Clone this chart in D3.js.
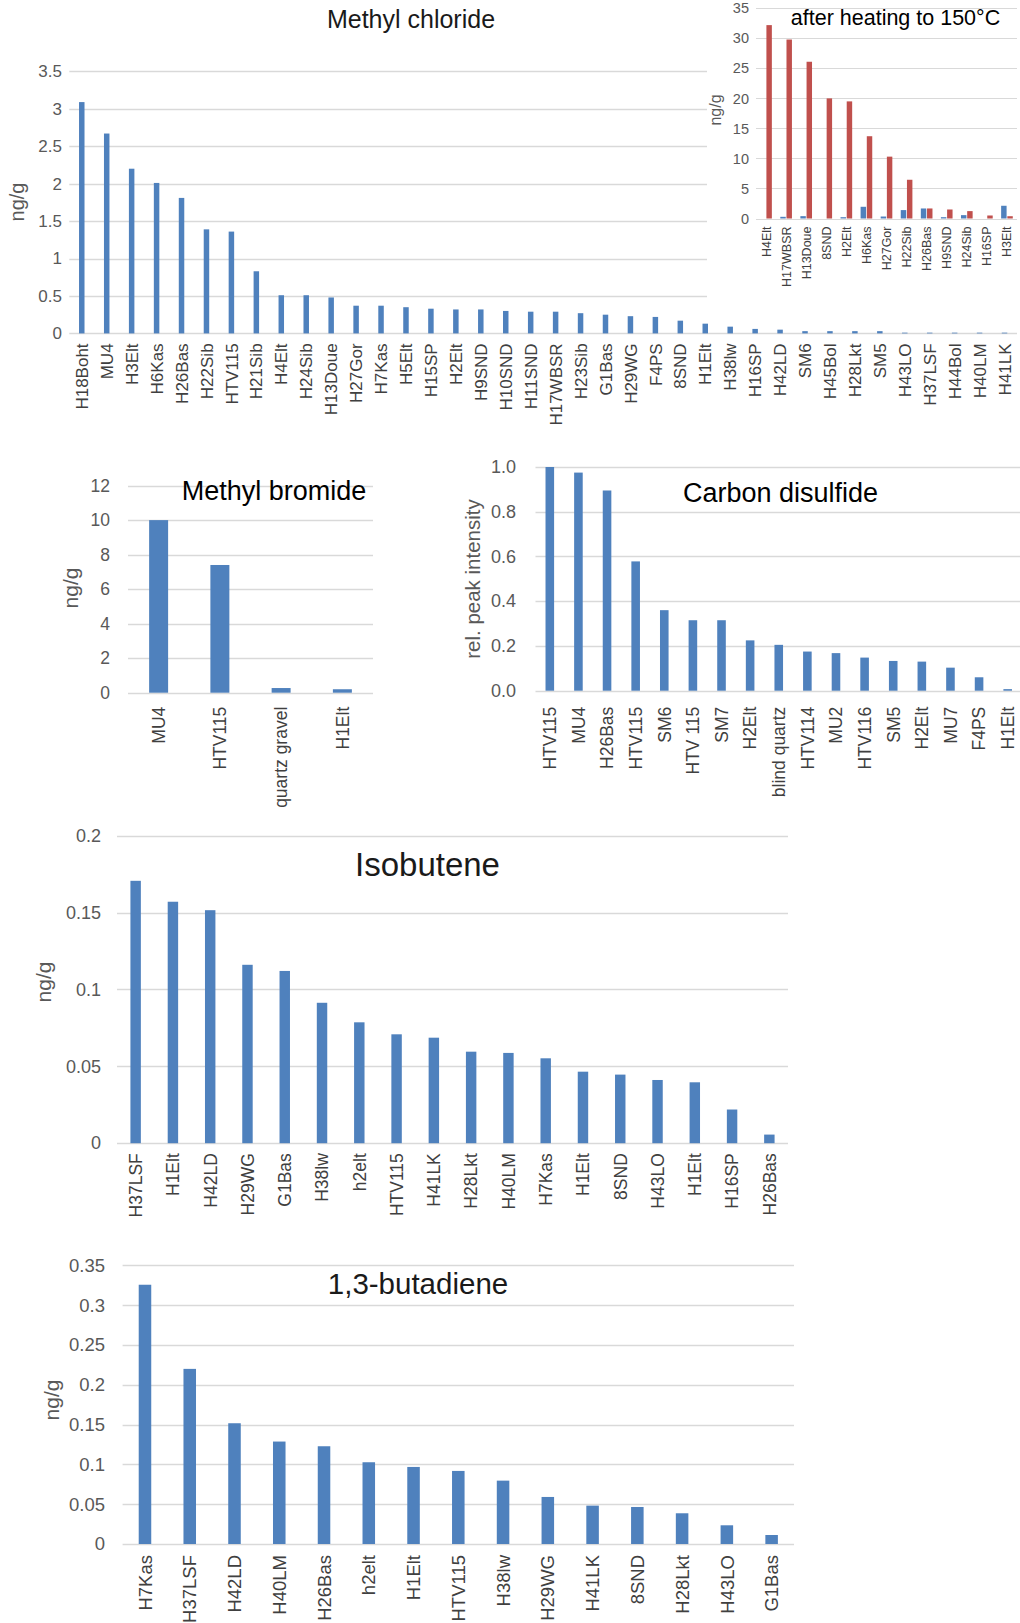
<!DOCTYPE html>
<html>
<head>
<meta charset="utf-8">
<script src="https://cdn.jsdelivr.net/npm/d3@7"></script>
<style>
  body { margin: 0; background: #fff; }
  svg { display: block; }
  text { font-family: "Liberation Sans", Arial, sans-serif; }
</style>
</head>
<body>
<svg id="fig" width="1020" height="1623"></svg>
<script>
// ---- Methyl chloride (ng/g) ----
const methylChlorideSamples = ["H18Boht","MU4","H3Elt","H6Kas","H26Bas","H22Sib","HTV115","H21Sib","H4Elt","H24Sib",
  "H13Doue","H27Gor","H7Kas","H5Elt","H15SP","H2Elt","H9SND","H10SND","H11SND","H17WBSR","H23Sib","G1Bas","H29WG",
  "F4PS","8SND","H1Elt","H38lw","H16SP","H42LD","SM6","H45Bol","H28Lkt","SM5","H43LO","H37LSF","H44Bol","H40LM","H41LK"];
const methylChlorideValues = [3.09,2.67,2.20,2.01,1.81,1.39,1.36,0.83,0.51,0.51,
  0.48,0.37,0.37,0.35,0.33,0.32,0.32,0.30,0.29,0.29,0.27,0.25,0.23,
  0.22,0.17,0.13,0.09,0.06,0.05,0.03,0.03,0.03,0.03,0.01,0.01,0.01,0.01,0.01];
const methylChlorideTicks = [0,0.5,1,1.5,2,2.5,3,3.5];
const methylChlorideTickLabels = ["0","0.5","1","1.5","2","2.5","3","3.5"];

// ---- Methyl chloride after heating to 150 °C (ng/g) ----
const heatedSamples = ["H4Elt","H17WBSR","H13Doue","8SND","H2Elt","H6Kas","H27Gor","H22Sib","H26Bas","H9SND","H24Sib","H16SP","H3Elt"];
const heatedBefore = [0,0.28,0.39,0,0.22,1.95,0.33,1.4,1.67,0.22,0.56,0,2.12];
const heatedAfter  = [32.2,29.8,26.1,20.0,19.5,13.7,10.3,6.45,1.67,1.5,1.23,0.5,0.38];
const heatedTicks = [0,5,10,15,20,25,30,35];
const heatedTickLabels = ["0","5","10","15","20","25","30","35"];

// ---- Methyl bromide (ng/g) ----
const methylBromideSamples = ["MU4","HTV115","quartz gravel","H1Elt"];
const methylBromideValues = [10.0,7.4,0.27,0.2];
const methylBromideTicks = [0,2,4,6,8,10,12];
const methylBromideTickLabels = ["0","2","4","6","8","10","12"];

// ---- Carbon disulfide (relative peak intensity) ----
const cs2Samples = ["HTV115","MU4","H26Bas","HTV115","SM6","HTV 115","SM7","H2Elt","blind quartz","HTV114",
  "MU2","HTV116","SM5","H2Elt","MU7","F4PS","H1Elt"];
const cs2Values = [1.0,0.975,0.895,0.578,0.36,0.315,0.315,0.225,0.205,0.175,0.168,0.148,0.133,0.13,0.103,0.06,0.007];
const cs2Ticks = [0,0.2,0.4,0.6,0.8,1.0];
const cs2TickLabels = ["0.0","0.2","0.4","0.6","0.8","1.0"];

// ---- Isobutene (ng/g) ----
const isobuteneSamples = ["H37LSF","H1Elt","H42LD","H29WG","G1Bas","H38lw","h2elt","HTV115","H41LK","H28Lkt",
  "H40LM","H7Kas","H1Elt","8SND","H43LO","H1Elt","H16SP","H26Bas"];
const isobuteneValues = [0.1706,0.157,0.1515,0.116,0.112,0.0913,0.0786,0.0708,0.0686,0.0595,
  0.0587,0.0552,0.0465,0.0446,0.0411,0.0396,0.0219,0.0056];
const isobuteneTicks = [0,0.05,0.1,0.15,0.2];
const isobuteneTickLabels = ["0","0.05","0.1","0.15","0.2"];

// ---- 1,3-butadiene (ng/g) ----
const butadieneSamples = ["H7Kas","H37LSF","H42LD","H40LM","H26Bas","h2elt","H1Elt","HTV115","H38lw","H29WG",
  "H41LK","8SND","H28Lkt","H43LO","G1Bas"];
const butadieneValues = [0.3257,0.220,0.1517,0.1287,0.1228,0.1027,0.0968,0.0918,0.0796,0.0591,
  0.0482,0.0465,0.0386,0.0235,0.0113];
const butadieneTicks = [0,0.05,0.1,0.15,0.2,0.25,0.3,0.35];
const butadieneTickLabels = ["0","0.05","0.1","0.15","0.2","0.25","0.3","0.35"];

const BLUE = "#4f81bd";
const RED = "#c0504d";
const GRID = "#d9d9d9";
const AXIS_TEXT = "#595959";

const svg = d3.select("#fig");

// Generic (optionally grouped) bar panel in Excel style
function barPanel(o) {
  const g = svg.append("g");
  const n = o.samples.length;
  const x = d3.scaleBand().domain(d3.range(n)).range([o.left, o.right])
    .paddingInner(o.pad).paddingOuter(o.pad / 2);
  const y = d3.scaleLinear().domain([0, o.max]).range([o.y0, o.yTop]);

  // horizontal gridlines
  g.append("g").selectAll("line").data(o.ticks).join("line")
    .attr("x1", o.left).attr("x2", o.right)
    .attr("y1", d => Math.round(y(d)) + 0.5).attr("y2", d => Math.round(y(d)) + 0.5)
    .attr("stroke", GRID).attr("stroke-width", o.gridWidth || 1.3);

  // bars
  const series = o.series;
  const inner = d3.scaleBand().domain(d3.range(series.length)).range([0, x.bandwidth()]).paddingInner(o.innerPad || 0);
  series.forEach((s, si) => {
    g.append("g").selectAll("rect").data(s.values).join("rect")
      .attr("x", (d, i) => x(i) + inner(si))
      .attr("width", inner.bandwidth())
      .attr("y", d => y(d))
      .attr("height", d => y(0) - y(d))
      .attr("fill", s.color);
  });

  // value axis labels
  const ya = g.append("g").attr("transform", `translate(${o.tickX},0)`)
    .call(d3.axisLeft(y).tickValues(o.ticks).tickSize(0).tickPadding(0)
      .tickFormat((d, i) => o.tickLabels[i]));
  ya.select(".domain").remove();
  ya.selectAll("text").attr("fill", AXIS_TEXT).style("font-size", o.tickFont + "px")
    .style("font-family", "'Liberation Sans', Arial, sans-serif");

  // category axis labels, rotated
  const xa = g.append("g").attr("transform", `translate(0,${o.y0})`)
    .call(d3.axisBottom(x).tickSize(0).tickFormat(i => o.samples[i]));
  xa.select(".domain").remove();
  xa.selectAll("text")
    .attr("transform", "rotate(-90)")
    .attr("x", -o.catGap).attr("y", 0).attr("dy", "0.36em")
    .attr("text-anchor", "end")
    .attr("fill", o.catColor || "#404040")
    .style("font-size", o.catFont + "px")
    .style("font-family", "'Liberation Sans', Arial, sans-serif");

  // axis title
  g.append("text")
    .attr("transform", `translate(${o.yLabelX},${o.yLabelY}) rotate(-90)`)
    .attr("text-anchor", "middle").attr("dy", "0.35em")
    .attr("fill", AXIS_TEXT).style("font-size", o.yLabelFont + "px")
    .text(o.yLabel);

  // chart title
  g.append("text")
    .attr("x", o.titleX).attr("y", o.titleY)
    .attr("text-anchor", "middle")
    .attr("fill", o.titleColor || "#000")
    .style("font-size", o.titleFont + "px")
    .text(o.title);
  return g;
}

// Methyl chloride
barPanel({
  samples: methylChlorideSamples, series: [{ values: methylChlorideValues, color: BLUE }],
  left: 69.3, right: 1017, pad: 0.78, y0: 333.4, yTop: 71.4, max: 3.5,
  ticks: methylChlorideTicks, tickLabels: methylChlorideTickLabels, tickX: 62, tickFont: 17,
  catFont: 17, catGap: 10,
  yLabel: "ng/g", yLabelX: 17, yLabelY: 202, yLabelFont: 20,
  title: "Methyl chloride", titleX: 411, titleY: 28, titleFont: 25, titleColor: "#1a1a1a"
});

// Inset panel sits on a white card over the main chart
svg.append("rect").attr("x", 707).attr("y", 0).attr("width", 313).attr("height", 305).attr("fill", "#fff");
barPanel({
  samples: heatedSamples,
  series: [{ values: heatedBefore, color: "#4f81bd" }, { values: heatedAfter, color: RED }],
  left: 756, right: 1017, pad: 0.42, innerPad: 0.12, y0: 218.5, yTop: 8.3, max: 35,
  ticks: heatedTicks, tickLabels: heatedTickLabels, tickX: 749, tickFont: 14.5,
  catFont: 12.5, catGap: 8, gridWidth: 1.2,
  yLabel: "ng/g", yLabelX: 715, yLabelY: 110, yLabelFont: 16,
  title: "after heating to 150°C", titleX: 895.5, titleY: 25, titleFont: 21.5
});

// Methyl bromide
barPanel({
  samples: methylBromideSamples, series: [{ values: methylBromideValues, color: BLUE }],
  left: 128, right: 373, pad: 0.69, y0: 692.7, yTop: 485.6, max: 12,
  ticks: methylBromideTicks, tickLabels: methylBromideTickLabels, tickX: 110, tickFont: 17.5,
  catFont: 17.5, catGap: 14,
  yLabel: "ng/g", yLabelX: 71, yLabelY: 588, yLabelFont: 21,
  title: "Methyl bromide", titleX: 274, titleY: 500, titleFont: 27
});

// Carbon disulfide
barPanel({
  samples: cs2Samples, series: [{ values: cs2Values, color: BLUE }],
  left: 535.5, right: 1022, pad: 0.7, y0: 690.7, yTop: 467, max: 1.0,
  ticks: cs2Ticks, tickLabels: cs2TickLabels, tickX: 516, tickFont: 18,
  catFont: 17.5, catGap: 16,
  yLabel: "rel. peak intensity", yLabelX: 473, yLabelY: 579, yLabelFont: 20.5,
  title: "Carbon disulfide", titleX: 780.5, titleY: 502, titleFont: 27
});

// Isobutene
barPanel({
  samples: isobuteneSamples, series: [{ values: isobuteneValues, color: BLUE }],
  left: 117, right: 788, pad: 0.72, y0: 1143.2, yTop: 835.6, max: 0.2,
  ticks: isobuteneTicks, tickLabels: isobuteneTickLabels, tickX: 101, tickFont: 18,
  catFont: 17.5, catGap: 10,
  yLabel: "ng/g", yLabelX: 43.5, yLabelY: 982, yLabelFont: 21,
  title: "Isobutene", titleX: 427.5, titleY: 876, titleFont: 33, titleColor: "#1a1a1a"
});

// 1,3-butadiene
barPanel({
  samples: butadieneSamples, series: [{ values: butadieneValues, color: BLUE }],
  left: 122.6, right: 794, pad: 0.72, y0: 1544, yTop: 1265.4, max: 0.35,
  ticks: butadieneTicks, tickLabels: butadieneTickLabels, tickX: 105, tickFont: 18.5,
  catFont: 18.5, catGap: 11,
  yLabel: "ng/g", yLabelX: 52, yLabelY: 1400, yLabelFont: 21,
  title: "1,3-butadiene", titleX: 418, titleY: 1294, titleFont: 29.5, titleColor: "#1a1a1a"
});
</script>
</body>
</html>
